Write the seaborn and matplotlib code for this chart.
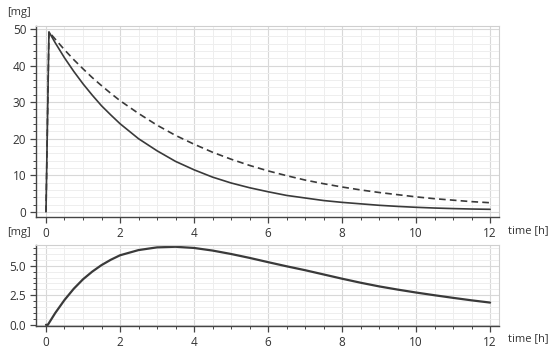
import numpy as np
import pandas as pd
import matplotlib
matplotlib.use("Agg")
import matplotlib.pyplot as plt
from matplotlib.ticker import MultipleLocator, FormatStrFormatter
import seaborn as sns

# --- data ---
time_top = [0, 0.08, 0.25, 0.5, 0.75, 1, 1.25, 1.5, 1.75, 2, 2.5, 3, 3.5, 4, 4.5, 5,
            5.5, 6, 6.5, 7, 7.5, 8, 8.5, 9, 9.5, 10, 10.5, 11, 11.5, 12]
solid_mg = [0, 49.2, 46.2, 42.1, 38.4, 35.0, 31.9, 29.0, 26.5, 24.1, 20.0, 16.7, 13.8, 11.5,
            9.5, 7.9, 6.6, 5.5, 4.5, 3.8, 3.1, 2.6, 2.2, 1.8, 1.5, 1.25, 1.05, 0.9, 0.78, 0.7]
dashed_mg = [0, 49.2, 47.2, 44.3, 41.6, 39.1, 36.7, 34.5, 32.4, 30.4, 26.9, 23.7, 20.9, 18.5,
             16.3, 14.4, 12.7, 11.2, 9.9, 8.7, 7.7, 6.8, 6.0, 5.3, 4.7, 4.1, 3.6, 3.2, 2.8, 2.5]

time_bot = [0, 0.05, 0.25, 0.5, 0.75, 1, 1.25, 1.5, 1.75, 2, 2.5, 3, 3.5, 4, 4.5, 5, 5.5,
            6, 6.5, 7, 7.5, 8, 8.5, 9, 9.5, 10, 10.5, 11, 11.5, 12]
conc_mg = [0, 0, 1.0, 2.1, 3.05, 3.85, 4.5, 5.05, 5.5, 5.88, 6.32, 6.55, 6.6, 6.5, 6.28,
           5.99, 5.66, 5.3, 4.95, 4.62, 4.26, 3.9, 3.56, 3.25, 2.98, 2.73, 2.5, 2.28, 2.07, 1.88]

x_ticks = [0, 2, 4, 6, 8, 10, 12]
top_yticks = [0, 10, 20, 30, 40, 50]
bot_yticks = [0.0, 2.5, 5.0]

sns.set_style("white")
plt.rcParams['font.family'] = ['Open Sans', 'DejaVu Sans']

LINE = "#3a3a3a"
TXT = "#333333"

fig = plt.figure(figsize=(5.5, 3.54), dpi=100)
ax1 = fig.add_axes([36/550, 1-217/354, (499-36)/550, (217-26)/354])
ax2 = fig.add_axes([36/550, 1-326/354, (499-36)/550, (326-245)/354])

df_top = pd.DataFrame({"t": time_top, "solid": solid_mg, "dashed": dashed_mg})
df_bot = pd.DataFrame({"t": time_bot, "c": conc_mg})

sns.lineplot(data=df_top, x="t", y="dashed", ax=ax1, color=LINE, lw=1.2,
             linestyle=(0, (4, 2.5)), sort=False)
sns.lineplot(data=df_top, x="t", y="solid", ax=ax1, color=LINE, lw=1.2, sort=False)
sns.lineplot(data=df_bot, x="t", y="c", ax=ax2, color=LINE, lw=1.6, sort=False)

for ax in (ax1, ax2):
    ax.set_xlim(-0.27, 12.24)
    ax.set_xticks(x_ticks)
    ax.xaxis.set_minor_locator(MultipleLocator(0.5))
    ax.set_xlabel("")
    ax.set_ylabel("")
    ax.grid(True, which="major", color="#d8d8d8", lw=0.8)
    ax.grid(True, which="minor", color="#eeeeee", lw=0.7)
    ax.set_axisbelow(True)
    for s in ("top", "right"):
        ax.spines[s].set_color("#cfcfcf")
        ax.spines[s].set_linewidth(0.8)
    for s in ("left", "bottom"):
        ax.spines[s].set_color("#444444")
        ax.spines[s].set_linewidth(1.0)
    ax.tick_params(which="major", direction="out", length=4, width=0.9, color="#444444",
                   labelsize=8.5, labelcolor=TXT, left=True, bottom=True, pad=3)
    ax.tick_params(which="minor", direction="out", length=2, width=0.7, color="#444444",
                   left=True, bottom=True)

ax1.set_ylim(-1.4, 50.8)
ax1.set_yticks(top_yticks)
ax1.yaxis.set_minor_locator(MultipleLocator(2))

ax2.set_ylim(-0.1, 6.75)
ax2.set_yticks(bot_yticks)
ax2.yaxis.set_major_formatter(FormatStrFormatter("%.1f"))
ax2.yaxis.set_minor_locator(MultipleLocator(0.5))

fig.text(7/550, 1-12/354, "[mg]", fontsize=8, color=TXT, va="center", ha="left")
fig.text(7/550, 1-233/354, "[mg]", fontsize=8, color=TXT, va="center", ha="left")
fig.text(508/550, 1-231/354, "time [h]", fontsize=8, color=TXT, va="center", ha="left")
fig.text(508/550, 1-339/354, "time [h]", fontsize=8, color=TXT, va="center", ha="left")

fig.savefig("out.png", dpi=100, facecolor="white")
